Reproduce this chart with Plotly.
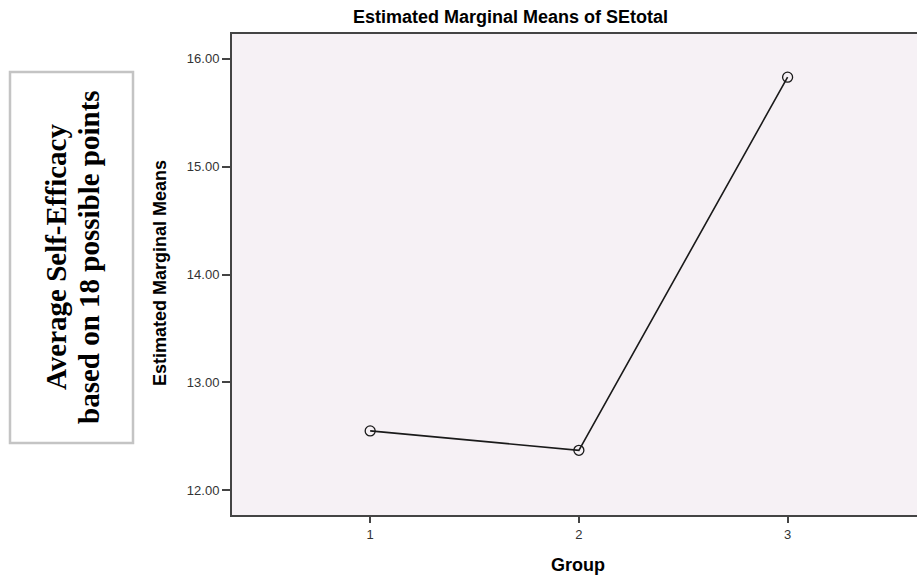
import plotly.graph_objects as go

groups = [1, 2, 3]
means = [12.55, 12.37, 15.83]
y_ticks = [12, 13, 14, 15, 16]
y_tick_labels = ["12.00", "13.00", "14.00", "15.00", "16.00"]
x_tick_labels = ["1", "2", "3"]

W, H = 917, 577
L, T, B, R = 232, 34, 62, 0

fig = go.Figure()
fig.add_trace(go.Scatter(
    x=groups, y=means, mode="lines+markers",
    line=dict(color="#1a1a1a", width=1.6),
    marker=dict(symbol="circle-open", size=10, color="#1a1a1a", line=dict(width=1.3)),
    showlegend=False, cliponaxis=False,
))

def px_x(px):
    return (px - L) / (W - L - R)

def px_y(py):
    return (H - B - py) / (H - T - B)

fig.add_shape(type="rect", xref="paper", yref="paper",
              x0=px_x(10), x1=px_x(133), y0=px_y(443), y1=px_y(72),
              line=dict(color="#c4c4c4", width=2.5), fillcolor="white", layer="above")
for txt, cx in [("Average Self-Efficacy", 56), ("based on 18 possible points", 89)]:
    fig.add_annotation(xref="paper", yref="paper", x=px_x(cx), y=px_y(257),
                       text="<b>" + txt + "</b>", textangle=-90, showarrow=False,
                       xanchor="center", yanchor="middle",
                       font=dict(family="Liberation Serif", size=29, color="black"))

fig.add_annotation(xref="paper", yref="paper", x=px_x(510), y=px_y(17),
                   text="<b>Estimated Marginal Means of SEtotal</b>", showarrow=False,
                   xanchor="center", yanchor="middle",
                   font=dict(family="Liberation Sans", size=18, color="black"))
fig.add_annotation(xref="paper", yref="paper", x=px_x(160), y=px_y(273),
                   text="<b>Estimated Marginal Means</b>", textangle=-90, showarrow=False,
                   xanchor="center", yanchor="middle",
                   font=dict(family="Liberation Sans", size=18, color="black"))
fig.add_annotation(xref="paper", yref="paper", x=px_x(578), y=px_y(565),
                   text="<b>Group</b>", showarrow=False,
                   xanchor="center", yanchor="middle",
                   font=dict(family="Liberation Sans", size=18, color="black"))

fig.update_layout(
    width=W, height=H,
    margin=dict(l=L, r=R, t=T, b=B),
    paper_bgcolor="white", plot_bgcolor="#f6f1f5",
    font=dict(family="Liberation Sans", color="#333"),
)
fig.update_xaxes(
    range=[0.338, 3.62], tickvals=groups, ticktext=x_tick_labels,
    showline=True, linecolor="#444", linewidth=2, mirror=True,
    ticks="outside", ticklen=6, tickcolor="#444", tickwidth=2,
    showgrid=False, zeroline=False, tickfont=dict(size=13, color="#333"),
)
fig.update_yaxes(
    range=[11.77, 16.23], tickvals=y_ticks, ticktext=y_tick_labels,
    showline=True, linecolor="#444", linewidth=2, mirror=False,
    ticks="outside", ticklen=8, tickcolor="#444", tickwidth=2,
    showgrid=False, zeroline=False, tickfont=dict(size=13, color="#333"),
)

fig.write_html("out.html", config={"displayModeBar": False},
               post_script="document.body.style.margin='0';document.body.style.overflow='hidden';")
